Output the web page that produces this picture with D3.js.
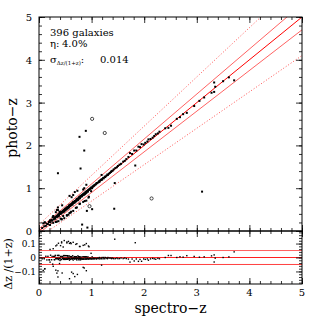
<!DOCTYPE html>
<html lang="en">
<head>
<meta charset="UTF-8">
<title>photo-z vs spectro-z</title>
<style>
  html, body { margin: 0; padding: 0; background: #fff; }
  text { font-family: "DejaVu Serif", "Liberation Serif", serif; fill: #000; }
</style>
</head>
<body>
<svg id="svg" width="319" height="319"></svg>
<script src="https://d3js.org/d3.v7.min.js"></script>
<script>
// spectroscopic and photometric redshifts
const specZ = [
  0.06,0.08,0.10,0.11,0.13,0.15,0.17,0.19,0.20,0.21,0.22,0.24,0.25,0.26,0.27,0.28,0.29,0.30,
  0.30,0.31,0.32,0.32,0.33,0.34,0.34,0.35,0.35,0.36,0.36,0.37,0.37,0.38,0.38,0.39,0.40,0.40,0.41,0.42,
  0.42,0.43,0.44,0.44,0.45,0.45,0.46,0.47,0.47,0.48,0.48,0.49,0.50,0.50,0.36,0.34,0.41,0.43,0.39,0.46,
  0.51,0.52,0.52,0.53,0.54,0.54,0.55,0.55,0.56,0.57,0.57,0.58,0.58,0.59,0.60,0.60,0.61,0.62,0.62,0.63,
  0.64,0.64,0.65,0.65,0.66,0.67,0.67,0.68,0.68,0.69,0.70,0.70,0.71,0.71,0.72,0.72,0.73,0.74,0.74,0.75,
  0.75,0.76,0.76,0.77,0.77,0.78,0.78,0.79,0.79,0.80,0.53,0.58,0.60,0.65,0.70,0.56,0.68,0.73,0.62,0.77,
  0.81,0.82,0.82,0.83,0.84,0.85,0.85,0.86,0.87,0.88,0.88,0.89,0.90,0.90,0.91,0.92,0.93,0.93,0.94,0.95,
  0.96,0.97,0.98,0.99,1.00,1.01,1.02,1.03,1.04,1.05,1.06,1.08,1.09,1.10,0.84,0.87,0.90,0.95,0.86,0.99,
  1.11,1.13,1.14,1.15,1.16,1.18,1.19,1.20,1.22,1.23,1.25,1.26,1.28,1.30,1.31,1.33,1.35,1.37,1.38,1.40,
  1.42,1.45,1.48,1.50,1.53,1.56,1.60,1.63,1.66,1.70,1.73,1.77,1.81,1.85,1.89,1.92,1.95,1.99,2.02,2.06,
  2.08,2.12,2.16,2.19,2.22,2.26,2.29,
  2.40,2.46,2.51,2.62,2.68,2.74,2.81,2.95,3.05,3.14,3.33,3.35,3.33,3.50,3.61,3.71,3.28,
  0.77,0.89,0.86,0.79,0.36,1.83,1.44,1.43,0.91,1.01,0.82,0.92,0.11,1.19,3.10,
  0.32,0.37,0.43,0.53,0.58,0.65,0.72,0.78,0.90,0.94,0.27,0.48,0.61,0.84,0.21
];
const photoZ = [
  0.07,0.18,0.11,0.20,0.12,0.17,0.16,0.21,0.22,0.25,0.20,0.26,0.24,0.32,0.35,0.27,0.31,0.29,
  0.32,0.29,0.33,0.44,0.34,0.35,0.22,0.36,0.33,0.37,0.49,0.35,0.39,0.39,0.36,0.40,0.41,0.43,0.40,0.44,
  0.41,0.45,0.43,0.60,0.46,0.44,0.47,0.45,0.49,0.49,0.46,0.51,0.48,0.52,0.55,0.49,0.29,0.27,0.45,0.35,
  0.52,0.50,0.54,0.54,0.56,0.52,0.56,0.54,0.57,0.59,0.55,0.59,0.61,0.58,0.62,0.59,0.62,0.63,0.61,0.65,
  0.65,0.62,0.66,0.68,0.67,0.68,0.66,0.70,0.67,0.70,0.71,0.69,0.73,0.70,0.73,0.75,0.74,0.75,0.72,0.77,
  0.74,0.77,0.79,0.78,0.76,0.80,0.77,0.80,0.82,0.81,0.36,0.82,0.43,0.84,0.54,0.38,0.91,0.94,0.79,0.63,
  0.83,0.81,0.84,0.85,0.86,0.84,0.87,0.88,0.86,0.90,0.87,0.91,0.92,0.89,0.93,0.93,0.95,0.92,0.96,0.97,
  0.97,0.99,0.99,1.01,1.02,1.00,1.04,1.04,1.06,1.06,1.08,1.09,1.11,1.12,0.97,0.70,1.08,0.80,1.00,0.93,
  1.12,1.14,1.16,1.15,1.18,1.19,1.21,1.20,1.24,1.23,1.27,1.26,1.29,1.32,1.31,1.34,1.36,1.38,1.40,1.41,
  1.44,1.47,1.49,1.52,1.55,1.57,1.62,1.64,1.68,1.73,1.82,1.80,1.88,1.88,1.97,1.96,2.03,2.02,2.06,2.09,
  2.14,2.15,2.18,2.22,2.26,2.28,2.32,
  2.40,2.41,2.46,2.62,2.66,2.73,2.76,2.92,3.04,3.12,3.47,3.37,3.25,3.50,3.59,3.52,3.23,
  2.20,2.34,1.88,1.46,1.35,1.53,1.12,0.52,0.47,0.51,0.15,0.08,0.20,1.31,0.92,
  0.21,0.23,0.28,0.37,0.42,0.47,0.55,0.64,0.71,0.78,0.19,0.30,0.45,0.68,0.14
];
// catastrophic outliers drawn as open circles
const openSpec = [1.01, 1.25, 2.14, 0.96];
const openPhoto = [2.62, 2.29, 0.76, 0.58];

const xTicks = [0, 1, 2, 3, 4, 5];
const yTicks = [0, 1, 2, 3, 4, 5];
const dzTicks = [-0.1, 0, 0.1];
const dzLabels = ["\u22120.1", "0", "0.1"];
const nGal = 396, eta = "4.0%", sigma = "0.014";

const svg = d3.select('#svg');
const pLeft = 39, pRight = 302, pTop = 17, pMid = 231, pBottom = 284;

const x = d3.scaleLinear().domain([0, 5]).range([pLeft, pRight]);
const y = d3.scaleLinear().domain([0, 5]).range([pMid, pTop]);
const yd = d3.scaleLinear().domain([-0.19, 0.19]).range([pBottom, pMid]);

const points = specZ.map((s, i) => ({ s: s, p: photoZ[i] }));
const open = openSpec.map((s, i) => ({ s: s, p: openPhoto[i] }));
const dz = d => (d.s - d.p) / (1 + d.s);

const defs = svg.append('defs');
defs.append('clipPath').attr('id', 'cTop').append('rect')
  .attr('x', pLeft).attr('y', pTop).attr('width', pRight - pLeft).attr('height', pMid - pTop);
defs.append('clipPath').attr('id', 'cBot').append('rect')
  .attr('x', pLeft).attr('y', pMid).attr('width', pRight - pLeft).attr('height', pBottom - pMid);

// reference lines in upper panel
const gTop = svg.append('g').attr('clip-path', 'url(#cTop)');
const zz = [0, 5];
const refs = [
  { k: 0, c: '#ff0000', dash: null, w: 1 },
  { k: 0.05, c: '#ff5050', dash: null, w: 0.9 },
  { k: -0.05, c: '#ff5050', dash: null, w: 0.9 },
  { k: 0.15, c: '#ff4040', dash: '1,2', w: 0.9 },
  { k: -0.15, c: '#ff4040', dash: '1,2', w: 0.9 }
];
refs.forEach(r => {
  gTop.append('line')
    .attr('x1', x(zz[0])).attr('y1', y(zz[0] + r.k * (1 + zz[0])))
    .attr('x2', x(zz[1])).attr('y2', y(zz[1] + r.k * (1 + zz[1])))
    .attr('stroke', r.c).attr('stroke-width', r.w)
    .attr('stroke-dasharray', r.dash);
});

gTop.selectAll('rect.pt').data(points).join('rect')
  .attr('x', d => x(d.s) - 1).attr('y', d => y(d.p) - 1)
  .attr('width', 2).attr('height', 2).attr('fill', '#000');
gTop.selectAll('circle.op').data(open).join('circle')
  .attr('cx', d => x(d.s)).attr('cy', d => y(d.p)).attr('r', 1.6)
  .attr('fill', 'none').attr('stroke', '#000').attr('stroke-width', 0.7);

// lower panel
const gBot = svg.append('g').attr('clip-path', 'url(#cBot)');
[{ v: 0, c: '#ff2020' }, { v: 0.05, c: '#ff6060' }, { v: -0.05, c: '#ff4040' }].forEach(r => {
  gBot.append('line').attr('x1', pLeft).attr('x2', pRight)
    .attr('y1', yd(r.v)).attr('y2', yd(r.v))
    .attr('stroke', r.c).attr('stroke-width', 1);
});
gBot.selectAll('rect.pt').data(points.concat(open)).join('rect')
  .attr('x', d => x(d.s) - 0.7).attr('y', d => yd(dz(d)) - 0.7)
  .attr('width', 1.4).attr('height', 1.4).attr('fill', '#000');

// ticks: inside on every side
function ticks(axis, tr, vals, size) {
  const g = svg.append('g').attr('transform', tr)
    .call(axis.tickValues(vals).tickSize(size).tickFormat(''));
  g.select('.domain').remove();
  g.selectAll('line').attr('stroke', '#000').attr('stroke-width', 0.8);
  return g;
}
const minorX = d3.range(0, 5.001, 0.2);
const minorY = d3.range(0, 5.001, 0.2);
const minorD = d3.range(-0.18, 0.181, 0.02);

[[pMid, true], [pTop, false], [pBottom, true], [pMid, false]].forEach(([yy, up]) => {
  ticks(up ? d3.axisTop(x) : d3.axisBottom(x), `translate(0,${yy})`, xTicks, 6);
  ticks(up ? d3.axisTop(x) : d3.axisBottom(x), `translate(0,${yy})`, minorX, 3);
});
ticks(d3.axisRight(y), `translate(${pLeft},0)`, yTicks, 6);
ticks(d3.axisRight(y), `translate(${pLeft},0)`, minorY, 3);
ticks(d3.axisLeft(y), `translate(${pRight},0)`, yTicks, 6);
ticks(d3.axisLeft(y), `translate(${pRight},0)`, minorY, 3);
ticks(d3.axisRight(yd), `translate(${pLeft},0)`, dzTicks, 6);
ticks(d3.axisRight(yd), `translate(${pLeft},0)`, minorD, 3);
ticks(d3.axisLeft(yd), `translate(${pRight},0)`, dzTicks, 6);
ticks(d3.axisLeft(yd), `translate(${pRight},0)`, minorD, 3);

// frames
[[pTop, pMid], [pMid, pBottom]].forEach(([a, b]) => {
  svg.append('rect').attr('x', pLeft).attr('y', a).attr('width', pRight - pLeft).attr('height', b - a)
    .attr('fill', 'none').attr('stroke', '#000').attr('stroke-width', 1);
});

// tick labels
svg.append('g').selectAll('text').data(xTicks).join('text')
  .attr('x', d => x(d)).attr('y', pBottom + 12).attr('text-anchor', 'middle')
  .attr('font-size', 10).text(d => d);
svg.append('g').selectAll('text').data(yTicks).join('text')
  .attr('x', pLeft - 7).attr('y', d => y(d) + 4).attr('text-anchor', 'end')
  .attr('font-size', 10).text(d => d);
svg.append('g').selectAll('text').data(dzTicks).join('text')
  .attr('x', pLeft - 3).attr('y', d => yd(d) + 3.5).attr('text-anchor', 'end')
  .attr('font-size', 9).text((d, i) => dzLabels[i]);

// axis titles
svg.append('text').attr('x', (pLeft + pRight) / 2).attr('y', 313)
  .attr('text-anchor', 'middle').attr('font-size', 14).text('spectro\u2212z');
svg.append('text').attr('transform', `translate(17,${(pTop + pMid) / 2 + 4}) rotate(-90)`)
  .attr('text-anchor', 'middle').attr('font-size', 14).text('photo\u2212z');
svg.append('text').attr('transform', `translate(12,264) rotate(-90)`)
  .attr('text-anchor', 'middle').attr('font-size', 11).text('\u0394z /(1+z)');

// statistics block
svg.append('text').attr('x', 50).attr('y', 36).attr('font-size', 10).text(`${nGal} galaxies`);
svg.append('text').attr('x', 50).attr('y', 47).attr('font-size', 10).text('\u03b7:');
svg.append('text').attr('x', 62).attr('y', 47).attr('font-size', 10).text(eta);
const sg = svg.append('text').attr('x', 50).attr('y', 63).attr('font-size', 10);
sg.append('tspan').text('\u03c3');
sg.append('tspan').attr('font-size', 5.5).attr('dy', 2).text('\u0394z/(1+z)');
sg.append('tspan').attr('dy', -2).text(':');
svg.append('text').attr('x', 100).attr('y', 63).attr('font-size', 10).text(sigma);
</script>
</body>
</html>
